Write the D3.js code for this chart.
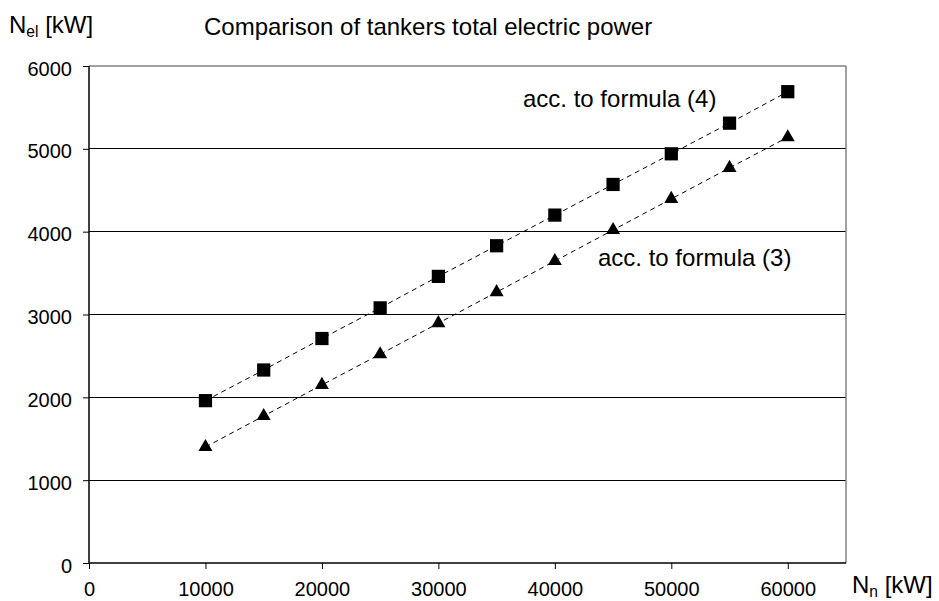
<!DOCTYPE html>
<html><head><meta charset="utf-8">
<script src="https://cdn.jsdelivr.net/npm/d3@7"></script>
<style>body{margin:0;background:#fff}svg{display:block}text{font-family:"Liberation Sans",Arial,sans-serif;fill:#000}</style>
</head><body><svg id="c" width="939" height="601"></svg>
<script>
const powerN = [10000,15000,20000,25000,30000,35000,40000,45000,50000,55000,60000];
const formula4 = [1960,2330,2710,3080,3460,3830,4200,4570,4940,5310,5690];
const formula3 = [1400,1775,2150,2520,2895,3270,3645,4020,4395,4770,5140];
const xTicks = [0,10000,20000,30000,40000,50000,60000];
const yTicks = [0,1000,2000,3000,4000,5000,6000];

const svg = d3.select("#c");
const L=89,R=846,T=66,B=563;
const x = d3.scaleLinear().domain([0,65000]).range([L,R]);
const y = d3.scaleLinear().domain([0,6000]).range([B,T]);
const fsTick = 20, fsText = 24;

// gridlines
svg.append("g").selectAll("line").data(yTicks.filter(d=>d>0&&d<6000)).join("line")
  .attr("x1",L).attr("x2",R).attr("y1",d=>y(d)).attr("y2",d=>y(d))
  .attr("stroke","#000").attr("stroke-width",1).attr("shape-rendering","crispEdges");
// top & right border
svg.append("line").attr("x1",L).attr("x2",R).attr("y1",T).attr("y2",T).attr("stroke","#808080").attr("stroke-width",1.5);
svg.append("line").attr("x1",R).attr("x2",R).attr("y1",T).attr("y2",B).attr("stroke","#808080").attr("stroke-width",1.5);

// axes
const yAxis = svg.append("g").attr("transform",`translate(${L},0)`)
  .call(d3.axisLeft(y).tickValues(yTicks).tickSize(6).tickPadding(11).tickFormat(d3.format("d")));
const xAxis = svg.append("g").attr("transform",`translate(0,${B})`)
  .call(d3.axisBottom(x).tickValues(xTicks).tickSize(6).tickPadding(13).tickFormat(d3.format("d")));
[yAxis,xAxis].forEach(a=>{
  a.select(".domain").attr("stroke","#000").attr("stroke-width",1.5);
  a.selectAll(".tick line").attr("stroke","#000").attr("stroke-width",1);
  a.selectAll("text").attr("font-size",fsTick).attr("font-family","Liberation Sans, Arial, sans-serif");
});
yAxis.selectAll("text").attr("dy","0.45em");
yAxis.select(".domain").attr("d",`M0,${T}V${B}`);
xAxis.select(".domain").attr("d",`M${L},0H${R}`);

// lines
const line = d3.line().x((d,i)=>x(powerN[i])).y(d=>y(d));
[formula4,formula3].forEach(s=>{
  svg.append("path").attr("d",line(s)).attr("fill","none").attr("stroke","#000")
    .attr("stroke-width",1).attr("stroke-dasharray","5,4");
});
// markers
svg.append("g").selectAll("path").data(formula4).join("path")
  .attr("d",d3.symbol(d3.symbolSquare,175)())
  .attr("transform",(d,i)=>`translate(${x(powerN[i])},${y(d)})`).attr("fill","#000");
svg.append("g").selectAll("path").data(formula3).join("path")
  .attr("d",d3.symbol(d3.symbolTriangle,85)())
  .attr("transform",(d,i)=>`translate(${x(powerN[i])},${y(d)})`).attr("fill","#000");

// texts
svg.append("text").attr("x",204).attr("y",35).attr("font-size",fsText).text("Comparison of tankers total electric power");
const yl = svg.append("text").attr("x",9).attr("y",33).attr("font-size",fsText);
yl.append("tspan").text("N");
yl.append("tspan").attr("font-size",fsText*0.65).attr("dy",4).text("el");
yl.append("tspan").attr("dy",-4).text(" [kW]");
const xl = svg.append("text").attr("x",852).attr("y",593).attr("font-size",fsText);
xl.append("tspan").text("N");
xl.append("tspan").attr("font-size",fsText*0.65).attr("dy",4).text("n");
xl.append("tspan").attr("dy",-4).text(" [kW]");
svg.append("text").attr("x",523).attr("y",107).attr("font-size",fsText).text("acc. to formula (4)");
svg.append("text").attr("x",598).attr("y",266).attr("font-size",fsText).text("acc. to formula (3)");
</script></body></html>
